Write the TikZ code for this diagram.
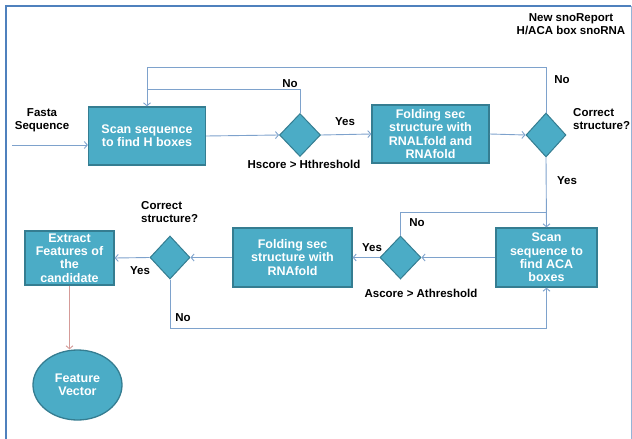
\documentclass[tikz,border=0pt]{standalone}
\usepackage{fontspec}
\setmainfont{Liberation Sans}
\usetikzlibrary{shapes.geometric,arrows.meta}
\definecolor{boxfill}{HTML}{4BACC6}
\definecolor{boxline}{HTML}{357D91}
\definecolor{conn}{HTML}{7EA2CC}
\definecolor{frame}{HTML}{4F81BD}
\definecolor{pinkline}{HTML}{D59B98}
\tikzset{
  procbox/.style={rectangle, fill=boxfill, draw=boxline, line width=1.3pt, text=white,
    font=\fontsize{12.5}{13.3}\selectfont\bfseries, align=center, inner sep=0pt},
  decide/.style={diamond, fill=boxfill, draw=boxline, line width=1pt, inner sep=0pt},
  endnode/.style={ellipse, fill=boxfill, draw=boxline, line width=1.3pt, text=white,
    font=\fontsize{12.5}{13.3}\selectfont\bfseries, align=center, inner sep=0pt},
  lbl/.style={font=\fontsize{11.5}{13}\selectfont\bfseries, inner sep=0pt, align=center},
  conline/.style={draw=conn, line width=0.9pt},
  arr/.style={conline, -{Straight Barb[length=3pt,width=7pt]}},
}
\begin{document}
\begin{tikzpicture}[x=1pt,y=-1pt]
\useasboundingbox (0,0) rectangle (632,439);
% frame
\draw[frame, line width=2.5pt] (6,439) -- (6,6) -- (631,6);
\draw[frame!60, line width=1pt] (631,6) -- (631,439);
% nodes
\node[procbox, minimum width=117pt, minimum height=58pt] (box1) at (147,136) {Scan sequence\\to find H boxes};
\node[decide, minimum width=41pt, minimum height=43pt] (d1) at (300,135) {};
\node[procbox, minimum width=117pt, minimum height=58pt] (box2) at (430.5,134) {Folding sec\\structure with\\RNALfold and\\RNAfold};
\node[decide, minimum width=40pt, minimum height=44pt] (d2) at (546,135) {};
\node[procbox, minimum width=101pt, minimum height=59pt] (box3) at (546.5,257.5) {Scan\\sequence to\\find ACA\\boxes};
\node[decide, minimum width=41pt, minimum height=43pt] (d3) at (400.5,257.5) {};
\node[procbox, minimum width=119pt, minimum height=59pt] (box4) at (292.5,257.5) {Folding sec\\structure with\\RNAfold};
\node[decide, minimum width=40pt, minimum height=43pt] (d4) at (170,257.5) {};
\node[procbox, minimum width=89pt, minimum height=54pt] (box5) at (69.5,258) {Extract\\Features of\\the\\candidate};
\node[endnode, minimum width=89pt, minimum height=70pt] (ell) at (77.5,385) {Feature\\Vector};
% helper coordinates
\coordinate (fin) at (12,145);
\coordinate (ytop) at (0,67);
\coordinate (yno1) at (0,89);
\coordinate (yno3) at (0,212);
\coordinate (yno4) at (0,328);
% connectors
\draw[arr] (fin) -- (fin -| box1.west);
\draw[arr] (box1.east) -- (d1.west);
\draw[arr] (d1.east) -- (box2.west);
\draw[arr] (box2.east) -- (d2.west);
\draw[arr] (d2.north) |- (ytop -| box1.north) -- (box1.north);
\draw[conline] (d1.north) |- (yno1 -| box1.north);
\draw[arr] (d2.south) -- (box3.north);
\draw[conline] (d3.north) |- (yno3 -| box3.north);
\draw[arr] (box3.west) -- (d3.east);
\draw[arr] (d3.west) -- (box4.east);
\draw[arr] (box4.west) -- (d4.east);
\draw[arr] (d4.west) -- (box5.east);
\draw[arr] (d4.south) |- (yno4 -| box3.south) -- (box3.south);
\draw[draw=pinkline, line width=0.9pt, -{Straight Barb[length=3pt,width=7pt]}] (box5.south) -- (box5.south |- ell.north);
% labels
\node[lbl] (tFasta) at (42,120.5) {Fasta\\Sequence};
\node[lbl] (tNo1) at (290,84) {No};
\node[lbl] (tYes1) at (345,122) {Yes};
\node[lbl] (tH) at (304,164) {Hscore > Hthreshold};
\node[lbl] (tNo2) at (562,80) {No};
\node[lbl, anchor=west, align=left] (tCS1) at (573,119.5) {Correct\\structure?};
\node[lbl] (tYes2) at (567,181) {Yes};
\node[lbl] (tTitle) at (571,24) {New snoReport\\H/ACA box snoRNA};
\node[lbl] (tNo3) at (417,223) {No};
\node[lbl] (tYes3) at (372,248) {Yes};
\node[lbl] (tA) at (421,293) {Ascore > Athreshold};
\node[lbl, anchor=west, align=left] (tCS2) at (141,212) {Correct\\structure?};
\node[lbl] (tYes4) at (140,271) {Yes};
\node[lbl] (tNo4) at (183,318) {No};
\end{tikzpicture}
\end{document}
